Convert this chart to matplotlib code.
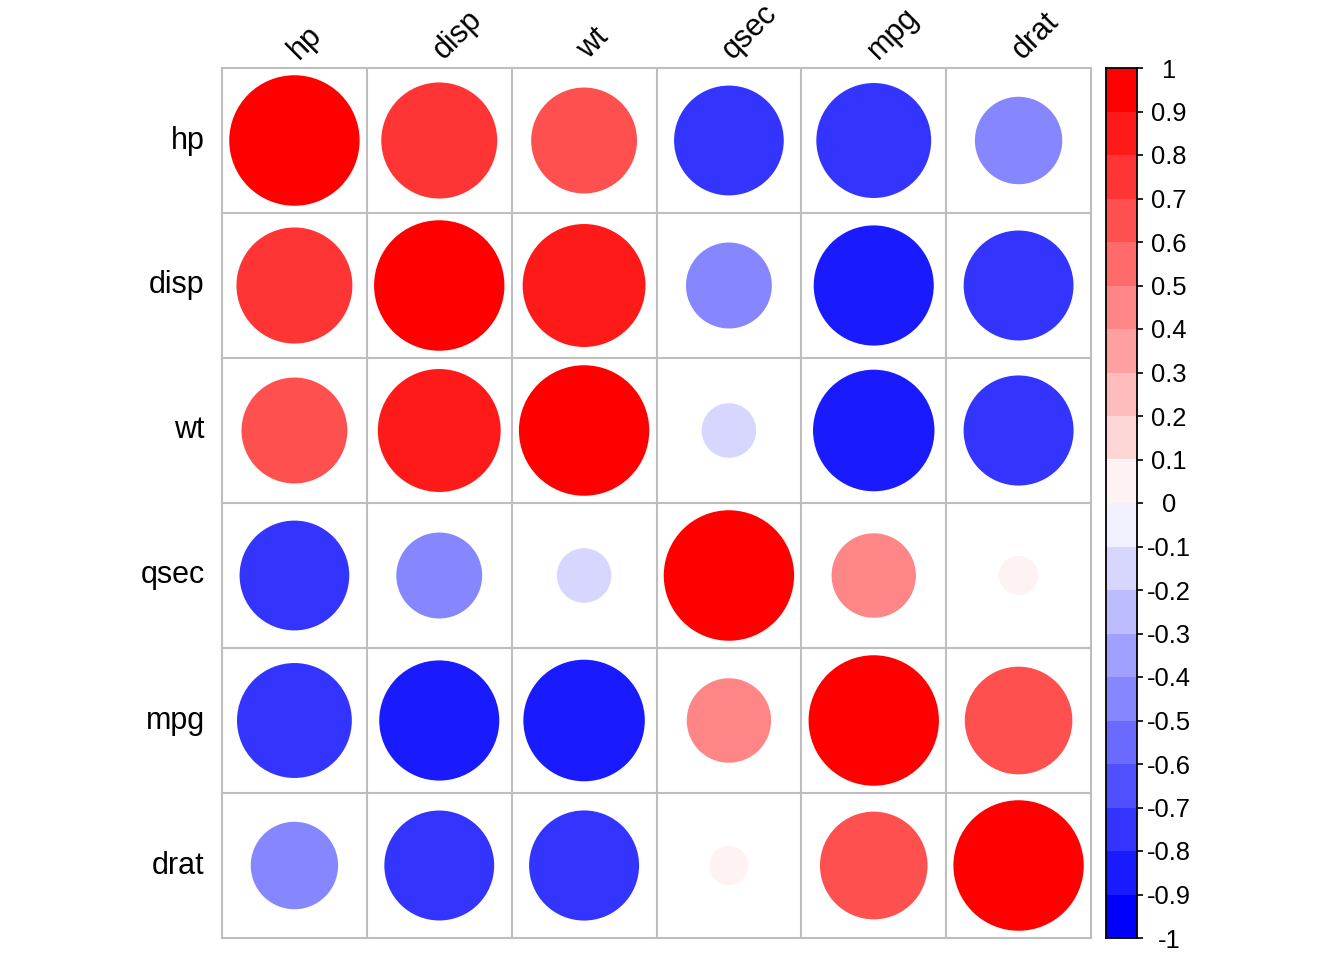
import numpy as np
import matplotlib.pyplot as plt
from matplotlib.patches import Circle, Rectangle
from matplotlib.colors import LinearSegmentedColormap

plt.rcParams['font.family'] = ['Liberation Sans', 'DejaVu Sans']

# variables and correlation matrix (mtcars)
variables = ['hp', 'disp', 'wt', 'qsec', 'mpg', 'drat']
corr = np.array([
    [1.000, 0.791, 0.659, -0.708, -0.776, -0.449],
    [0.791, 1.000, 0.888, -0.434, -0.848, -0.710],
    [0.659, 0.888, 1.000, -0.175, -0.868, -0.712],
    [-0.708, -0.434, -0.175, 1.000, 0.419, 0.091],
    [-0.776, -0.848, -0.868, 0.419, 1.000, 0.681],
    [-0.449, -0.710, -0.712, 0.091, 0.681, 1.000],
])
cbar_labels = ['1', '0.9', '0.8', '0.7', '0.6', '0.5', '0.4', '0.3', '0.2', '0.1', '0',
               '-0.1', '-0.2', '-0.3', '-0.4', '-0.5', '-0.6', '-0.7', '-0.8', '-0.9', '-1']

n_col = 20
cmap = LinearSegmentedColormap.from_list('bwr2', ['#0000FF', '#FFFFFF', '#FF0000'])
palette = [cmap(i / (n_col - 1)) for i in range(n_col)]


def col_for(r):
    idx = int(np.floor((r + 1) / 2 * n_col))
    return palette[min(max(idx, 0), n_col - 1)]


W, H = 1344, 960
fig = plt.figure(figsize=(W / 100, H / 100), dpi=100)

x0, x1, y0, y1 = 222, 1091, 68, 938
ax = fig.add_axes([x0 / W, 1 - y1 / H, (x1 - x0) / W, (y1 - y0) / H])
n = len(variables)
ax.set_xlim(0, n)
ax.set_ylim(n, 0)
ax.axis('off')

grid_c = '#BEBEBE'
for k in range(n + 1):
    ax.plot([k, k], [0, n], color=grid_c, lw=1.5, clip_on=False, zorder=1)
    ax.plot([0, n], [k, k], color=grid_c, lw=1.5, clip_on=False, zorder=1)

for i in range(n):
    for j in range(n):
        r = corr[i, j]
        ax.add_patch(Circle((j + 0.5, i + 0.5), 0.45 * np.sqrt(abs(r)),
                            facecolor=col_for(r), edgecolor='none', zorder=2))

for k, v in enumerate(variables):
    ax.text(-0.12, k + 0.5, v, ha='right', va='center', fontsize=22)
    ax.text(k + 0.53, -0.055, v, ha='left', va='baseline', rotation=45,
            rotation_mode='anchor', fontsize=22)

# colour legend
cx0, cx1 = 1106, 1137
cax = fig.add_axes([cx0 / W, 1 - y1 / H, (cx1 - cx0) / W, (y1 - y0) / H])
cax.set_xlim(0, 1)
cax.set_ylim(-1, 1)
for i in range(n_col):
    lo = -1 + i * 2 / n_col
    cax.add_patch(Rectangle((0, lo), 1, 2 / n_col, facecolor=palette[i], edgecolor='none'))
for s in cax.spines.values():
    s.set_linewidth(1.3)
cax.set_xticks([])
cax.yaxis.tick_right()
tick_vals = [float(t) for t in cbar_labels]
cax.set_yticks(tick_vals)
cax.set_yticklabels(cbar_labels, fontsize=18.4)
cax.tick_params(axis='y', length=4, width=1.2, pad=19)
for lbl in cax.get_yticklabels():
    lbl.set_horizontalalignment('center')

fig.savefig('out.png', dpi=100)
